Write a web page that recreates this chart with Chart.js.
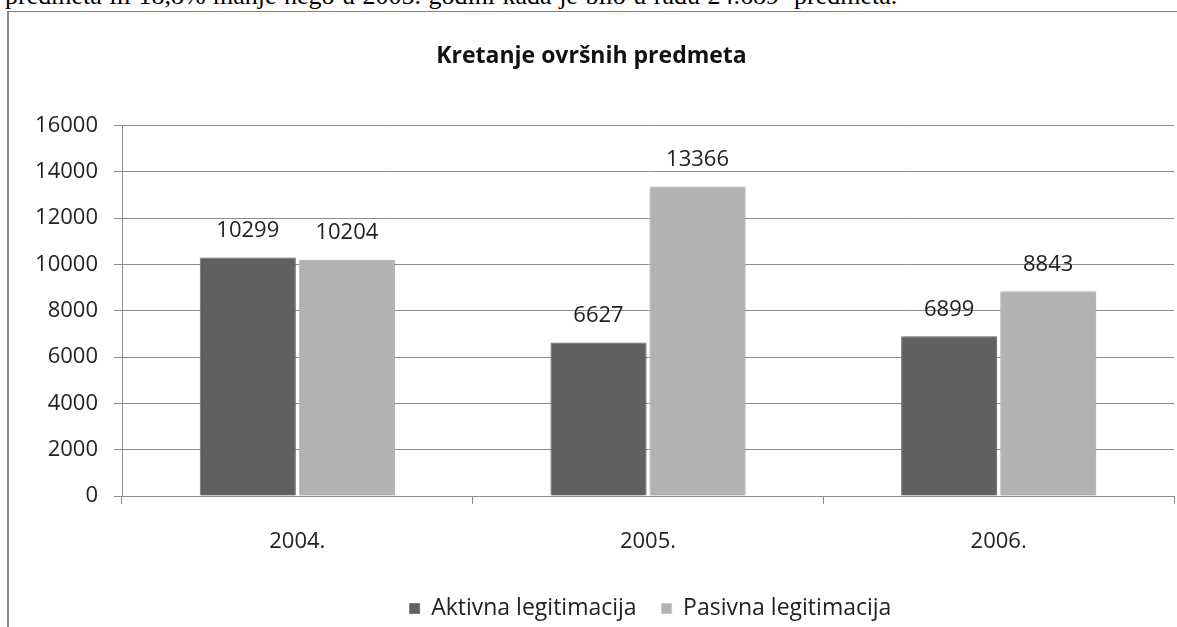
<!DOCTYPE html>
<html>
<head>
<meta charset="utf-8">
<title>Kretanje ovršnih predmeta</title>
<script src="https://cdn.jsdelivr.net/npm/chart.js@4.4.0/dist/chart.umd.min.js"></script>
<style>
  body { margin: 0; width: 1177px; height: 627px; overflow: hidden; background: #fff; position: relative; }
  .text-line { position: absolute; left: 5px; top: -17px; font: 26px 'Liberation Serif', serif; line-height: 26px; word-spacing: 1px; white-space: nowrap; color: #000; }
  .frame { position: absolute; left: 7px; top: 11px; width: 1200px; height: 700px; border-top: 1px solid #7f7f7f; border-left: 2px solid #8a8a8a; background: #fff; }
  .frame canvas { display: block; }
</style>
</head>
<body>
<div class="text-line">predmeta ili 18,8% manje nego u 2005. godini kada je bilo u radu 24.689&nbsp; predmeta.</div>
<div class="frame">
  <canvas id="predmetiChart" width="1168" height="615"></canvas>
</div>
<script>
var years = ['2004.', '2005.', '2006.'];
var aktivna = [10299, 6627, 6899];
var pasivna = [10204, 13366, 8843];

var FONT = "'Open Sans'";
var gridColor = '#8c8c8c';

// soft shadow round the bars
var barShadow = {
    id: 'barShadow',
    beforeDatasetsDraw: function (chart) {
        var ctx = chart.ctx;
        ctx.save();
        ctx.shadowColor = 'rgba(0,0,0,0.22)';
        ctx.shadowBlur = 4;
        ctx.shadowOffsetX = 1;
        ctx.shadowOffsetY = 0;
    },
    afterDatasetsDraw: function (chart) {
        chart.ctx.restore();
    }
};

// value written above each bar
var valueLabels = {
    id: 'valueLabels',
    afterDatasetsDraw: function (chart) {
        var ctx = chart.ctx;
        ctx.save();
        ctx.font = '22px ' + FONT;
        ctx.fillStyle = '#222';
        ctx.textAlign = 'center';
        ctx.textBaseline = 'middle';
        chart.data.datasets.forEach(function (ds, i) {
            chart.getDatasetMeta(i).data.forEach(function (bar, j) {
                ctx.fillText(String(ds.data[j]), bar.x, bar.y - 27);
            });
        });
        ctx.restore();
    }
};

// legend sits a bit right of centre and a touch lower
var legendShift = {
    id: 'legendShift',
    afterLayout: function (chart) {
        chart.legend.left += 59;
        chart.legend.right += 59;
        chart.legend.top += 3;
        chart.legend.bottom += 3;
    }
};

var ctx = document.getElementById('predmetiChart').getContext('2d');
new Chart(ctx, {
    type: 'bar',
    data: {
        labels: years,
        datasets: [{
            label: 'Aktivna legitimacija',
            data: aktivna,
            backgroundColor: '#606060',
            borderColor: '#7c7c7c',
            borderWidth: 1,
            categoryPercentage: 0.565,
            barPercentage: 0.97
        }, {
            label: 'Pasivna legitimacija',
            data: pasivna,
            backgroundColor: '#b2b2b2',
            borderColor: '#c6c6c6',
            borderWidth: 1,
            categoryPercentage: 0.565,
            barPercentage: 0.97
        }]
    },
    options: {
        responsive: false,
        animation: false,
        devicePixelRatio: 1,
        layout: { padding: { left: 0, right: 3, top: 0, bottom: 0 } },
        scales: {
            x: {
                grid: { drawOnChartArea: false, drawTicks: true, tickLength: 8, color: gridColor },
                border: { color: gridColor },
                ticks: { font: { family: FONT, size: 22 }, color: '#222', padding: 25 },
                afterFit: function (scale) { scale.height = 73; }
            },
            y: {
                min: 0,
                max: 16000,
                grid: { color: gridColor, tickLength: 8 },
                border: { color: gridColor },
                ticks: {
                    stepSize: 2000,
                    font: { family: FONT, size: 22 },
                    color: '#222',
                    padding: 16,
                    callback: function (v) { return String(v); }
                },
                afterFit: function (scale) { scale.width = 113; }
            }
        },
        plugins: {
            title: {
                display: true,
                text: 'Kretanje ovršnih predmeta',
                font: { family: FONT, size: 23, weight: 'bold' },
                color: '#111',
                padding: { top: 31, bottom: 55 }
            },
            legend: {
                position: 'bottom',
                labels: {
                    font: { family: FONT, size: 23 },
                    color: '#222',
                    boxWidth: 10,
                    boxHeight: 10,
                    padding: 25
                }
            },
            tooltip: { enabled: false }
        }
    },
    plugins: [barShadow, valueLabels, legendShift]
});
</script>
</body>
</html>
